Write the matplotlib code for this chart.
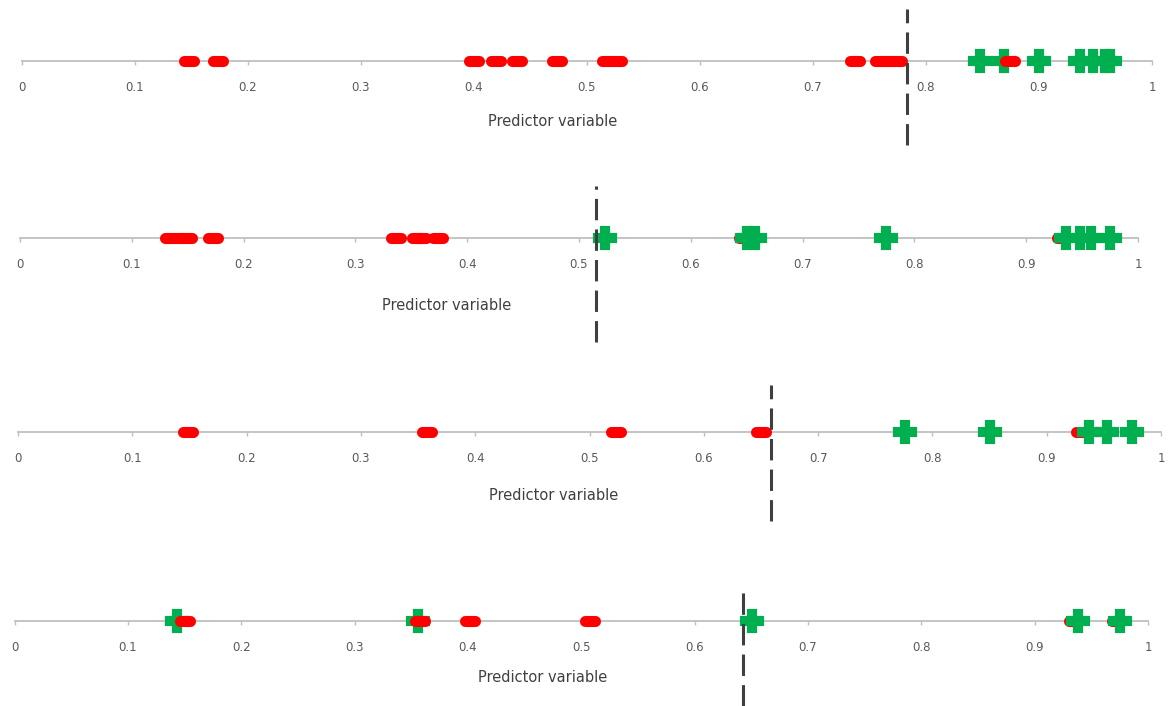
import matplotlib.pyplot as plt
from matplotlib.markers import MarkerStyle

# four strip plots of one predictor, red = negative, green = positive cases
red_1 = [0.148, 0.174, 0.400, 0.420, 0.438, 0.474, 0.518, 0.527,
         0.737, 0.759, 0.767, 0.774, 0.874]
green_1 = [0.848, 0.869, 0.900, 0.936, 0.948, 0.958, 0.963]
cut_1 = 0.783

red_2 = [0.134, 0.142, 0.149, 0.173, 0.336, 0.355, 0.359, 0.374,
         0.648, 0.932]
green_2 = [0.523, 0.650, 0.657, 0.775, 0.936, 0.948, 0.958, 0.975]
cut_2 = 0.515

red_3 = [0.149, 0.358, 0.523, 0.650, 0.930]
green_3 = [0.776, 0.850, 0.937, 0.953, 0.975]
cut_3 = 0.659

red_4 = [0.150, 0.358, 0.402, 0.508, 0.935, 0.973]
green_4 = [0.143, 0.356, 0.651, 0.938, 0.975]
cut_4 = 0.643

ticks = [0, 0.1, 0.2, 0.3, 0.4, 0.5, 0.6, 0.7, 0.8, 0.9, 1]
tick_labels = ['0', '0.1', '0.2', '0.3', '0.4', '0.5', '0.6', '0.7', '0.8', '0.9', '1']
xlabel = 'Predictor variable'

W, H = 1171, 706
# layout in pixels: left, right, axis y, dash top, dash bottom, label y, label x
layout = [
    (21.5, 1152, 61, 9, 145, 122, 0.470),
    (20, 1138, 238, 186, 342, 306, 0.382),
    (18, 1161, 432, 385, 521, 495, 0.469),
    (14.5, 1148, 621, 592, 706, 677, 0.466),
]
panels = [(red_1, green_1, cut_1), (red_2, green_2, cut_2),
          (red_3, green_3, cut_3), (red_4, green_4, cut_4)]

RED = '#FF0000'
GREEN = '#00B050'
GRAY = '#BFBFBF'
dash_marker = MarkerStyle('_', capstyle='round')

fig = plt.figure(figsize=(W / 100, H / 100), dpi=100)
fig.patch.set_facecolor('white')

h_px = 40.0
for (red, green, cut), (x0, x1, ay, dtop, dbot, ly, lx) in zip(panels, layout):
    ax = fig.add_axes([x0 / W, (H - ay) / H, (x1 - x0) / W, h_px / H])
    ax.set_xlim(0, 1)
    ax.set_ylim(0, 1)
    ax.patch.set_alpha(0)
    for s in ['top', 'left', 'right']:
        ax.spines[s].set_visible(False)
    ax.spines['bottom'].set_color(GRAY)
    ax.spines['bottom'].set_linewidth(1.3)
    ax.set_yticks([])
    ax.set_xticks(ticks)
    ax.set_xticklabels(tick_labels)
    ax.tick_params(axis='x', direction='out', length=3, width=1, color=GRAY,
                   labelsize=8.5, labelcolor='#595959', pad=11.5)

    # draw points in x order so overlaps stack like the original
    pts = [(v, 'r') for v in red] + [(v, 'g') for v in green]
    pts.sort()
    for i, (v, c) in enumerate(pts):
        if c == 'r':
            ax.plot([v], [0], marker=dash_marker, ms=7, mew=8, color=RED,
                    clip_on=False, zorder=3 + i * 0.01)
        else:
            ax.plot([v], [0], marker='P', ms=14.5, mew=3, color=GREEN,
                    mec=GREEN, clip_on=False, zorder=3 + i * 0.01)

    ax.plot([cut, cut], [-(dbot - ay) / h_px, (ay - dtop) / h_px],
            color='#3F3F3F', lw=2.2, linestyle=(0, (7, 3)),
            clip_on=False, zorder=6)

    ax.text(lx, -(ly - ay) / h_px, xlabel, transform=ax.transAxes,
            ha='center', va='center', fontsize=10.5, color='#404040')

plt.savefig('out.png', dpi=100, facecolor='white')
